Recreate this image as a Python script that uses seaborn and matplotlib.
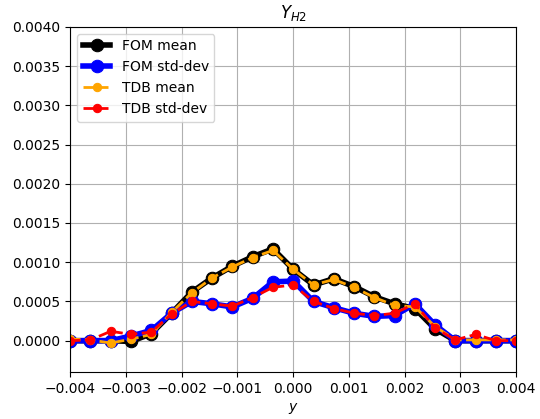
import numpy as np
import pandas as pd
import matplotlib
matplotlib.use("Agg")
import matplotlib.pyplot as plt
import seaborn as sns

# grid positions (23 points from -0.004 to 0.004)
y_pos = [-0.004, -0.003636, -0.003273, -0.002909, -0.002545, -0.002182, -0.001818,
         -0.001455, -0.001091, -0.000727, -0.000364, 0.0, 0.000364, 0.000727,
         0.001091, 0.001455, 0.001818, 0.002182, 0.002545, 0.002909, 0.003273,
         0.003636, 0.004]

fom_mean = [0.0, 0.0, 0.0, -0.00001, 0.00009, 0.00035, 0.00062, 0.00080, 0.00095,
            0.00107, 0.00117, 0.00091, 0.00071, 0.00079, 0.00069, 0.00056, 0.00047,
            0.00041, 0.00015, 0.0, 0.0, 0.0, 0.0]
fom_std = [0.0, 0.0, 0.0, 0.00006, 0.00013, 0.00035, 0.00050, 0.00047, 0.00043,
           0.00054, 0.00075, 0.00076, 0.00050, 0.00042, 0.00035, 0.00031, 0.00032,
           0.00047, 0.00020, 0.0, 0.0, 0.0, 0.0]
tdb_mean = [0.00002, 0.00001, -0.00003, 0.00002, 0.00008, 0.00036, 0.00061, 0.00080,
            0.00094, 0.00106, 0.00115, 0.00091, 0.00071, 0.00078, 0.00068, 0.00055,
            0.00045, 0.00043, 0.00018, 0.00001, 0.00001, 0.00001, 0.00001]
tdb_std = [0.0, 0.00001, 0.00012, 0.00008, 0.00011, 0.00034, 0.00050, 0.00047,
           0.00044, 0.00055, 0.00068, 0.00071, 0.00050, 0.00041, 0.00035, 0.00032,
           0.00035, 0.00047, 0.00016, 0.00001, 0.00008, 0.0, 0.0]

fig, ax = plt.subplots(figsize=(5.4, 4.19), dpi=100)
fig.subplots_adjust(left=0.13, right=0.956, top=0.936, bottom=0.112)

sns.lineplot(x=y_pos, y=fom_mean, ax=ax, color="black", lw=4, marker="o",
             markersize=9, markeredgecolor="black", label="FOM mean")
sns.lineplot(x=y_pos, y=fom_std, ax=ax, color="blue", lw=4, marker="o",
             markersize=9, markeredgecolor="blue", label="FOM std-dev")
sns.lineplot(x=y_pos, y=tdb_mean, ax=ax, color="orange", lw=2, marker="o",
             markersize=6, markeredgecolor="orange", linestyle="--", label="TDB mean")
sns.lineplot(x=y_pos, y=tdb_std, ax=ax, color="red", lw=2, marker="o",
             markersize=6, markeredgecolor="red", linestyle="--", label="TDB std-dev")

ax.set_xlim(-0.004, 0.004)
ax.set_ylim(-0.0004, 0.004)
ax.set_yticks(np.arange(0, 0.00401, 0.0005))
ax.set_xticks(np.arange(-0.004, 0.00401, 0.001))
ax.yaxis.set_major_formatter(matplotlib.ticker.FormatStrFormatter("%.4f"))
ax.xaxis.set_major_formatter(matplotlib.ticker.FuncFormatter(
    lambda v, p: ("%.3f" % v).replace("-", "\u2212") if abs(v) > 1e-9 else "0.000"))
ax.grid(True, color="#b0b0b0", lw=0.8)
ax.set_axisbelow(True)
ax.set_title("$Y_{H2}$")
ax.set_xlabel("$y$")
ax.set_ylabel("")
ax.legend(loc="upper left")
fig.savefig("out.png", dpi=100)
